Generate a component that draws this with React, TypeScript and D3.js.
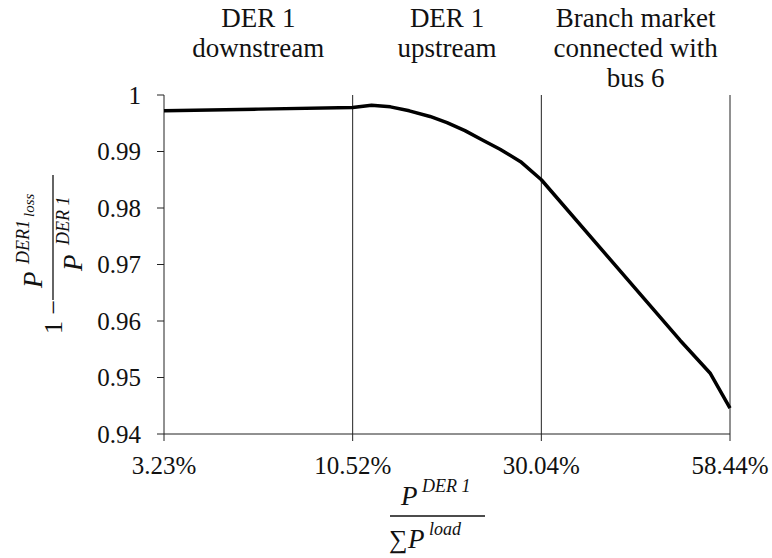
import React from 'react';
import * as d3 from 'd3';

const categories = ['3.23%', '10.52%', '30.04%', '58.44%'];
const yTicks = [0.94, 0.95, 0.96, 0.97, 0.98, 0.99, 1];
const regionLabels = [
  ['DER 1', 'downstream'],
  ['DER 1', 'upstream'],
  ['Branch market', 'connected with', 'bus 6'],
];
// position along the category axis (0..3) and loss-ratio value
const curvePos = [0, 0.5, 1, 1.1, 1.2, 1.3, 1.41, 1.5, 1.595, 1.69, 1.781, 1.89, 2, 2.735, 2.894, 3];
const curveValues = [0.9972, 0.9975, 0.9978, 0.9982, 0.9979, 0.9972, 0.9962, 0.9951, 0.9937, 0.992, 0.9904, 0.9882, 0.985, 0.9566, 0.9508, 0.9446];

const W = 772;
const H = 558;
const left = 164;
const right = 730;
const top = 95;
const bottom = 434;

export default function App() {
  const x = d3.scaleLinear().domain([0, categories.length - 1]).range([left, right]);
  const y = d3.scaleLinear().domain([0.94, 1]).range([bottom, top]);
  const pts: [number, number][] = curvePos.map((p, i) => [p, curveValues[i]]);
  const line = d3
    .line<[number, number]>()
    .x((d) => x(d[0]))
    .y((d) => y(d[1]))
    .curve(d3.curveLinear);
  const axisColor = '#222';

  return (
    <svg width={W} height={H} style={{ position: 'absolute', left: 0, top: 0, background: '#fff', display: 'block' }}>
      <style>{`
        .t { font-family: "Liberation Serif", Tinos, Times, serif; font-style: normal; fill: #111; }
        .i { font-family: "Liberation Serif", Tinos, Times, serif; font-style: italic; fill: #111; }
      `}</style>
      <rect width={W} height={H} fill="#fff" />
      {/* region labels */}
      {regionLabels.map((lines, i) => (
        <text key={i} className="t" x={(x(i) + x(i + 1)) / 2} textAnchor="middle" fontSize={27}>
          {lines.map((l, j) => (
            <tspan key={j} x={(x(i) + x(i + 1)) / 2} y={27 + j * 30}>
              {l}
            </tspan>
          ))}
        </text>
      ))}
      {/* vertical separators */}
      {categories.map((c, i) => (
        <line key={c} x1={x(i)} x2={x(i)} y1={top} y2={bottom + 7} stroke={axisColor} strokeWidth={1} />
      ))}
      {/* x axis */}
      <line x1={left} x2={right} y1={bottom} y2={bottom} stroke={axisColor} strokeWidth={1} />
      {/* y ticks */}
      {yTicks.map((t) => (
        <g key={t}>
          <line x1={left - 7} x2={left} y1={y(t)} y2={y(t)} stroke={axisColor} strokeWidth={1} />
          <text className="t" x={141} y={y(t)} dy="0.35em" textAnchor="end" fontSize={25}>
            {String(t)}
          </text>
        </g>
      ))}
      {/* x tick labels */}
      {categories.map((c, i) => (
        <text key={c} className="t" x={x(i)} y={474} textAnchor="middle" fontSize={25}>
          {c}
        </text>
      ))}
      {/* data curve */}
      <path d={line(pts) || ''} fill="none" stroke="#000" strokeWidth={3.5} strokeLinejoin="round" />

      {/* x axis label: fraction */}
      <g>
        <text className="i" x={401} y={505} fontSize={27}>P</text>
        <text className="i" x={422} y={492} fontSize={18}>DER 1</text>
        <line x1={390} x2={485} y1={516} y2={516} stroke="#111" strokeWidth={1.3} />
        <text className="t" x={389} y={548} fontSize={26}>∑</text>
        <text className="i" x={408} y={548} fontSize={27}>P</text>
        <text className="i" x={429} y={535} fontSize={18}>load</text>
      </g>

      {/* y axis label: rotated fraction */}
      <g transform="translate(53,255) rotate(-90)">
        <text className="t" x={-79} y={9} fontSize={26}>1 −</text>
        <line x1={-45} x2={80} y1={0} y2={0} stroke="#111" strokeWidth={1.3} />
        <text className="i" x={-33} y={-11} fontSize={27}>P</text>
        <text className="i" x={-9} y={-24} fontSize={18}>DER1</text>
        <text className="i" x={38} y={-19} fontSize={15}>loss</text>
        <text className="i" x={-16} y={29} fontSize={27}>P</text>
        <text className="i" x={10} y={16} fontSize={18}>DER 1</text>
      </g>
    </svg>
  );
}
